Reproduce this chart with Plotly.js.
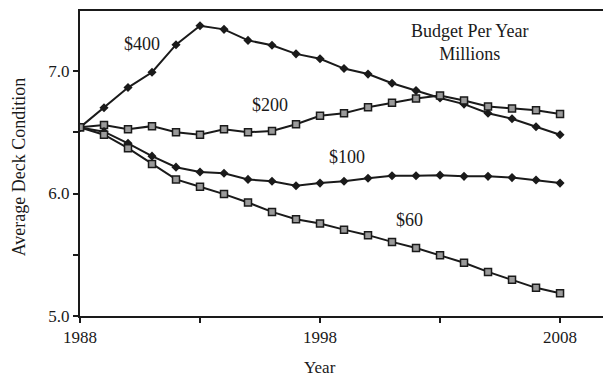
<!DOCTYPE html>
<html>
<head>
<meta charset="utf-8">
<script src="https://cdn.plot.ly/plotly-3.0.1.min.js"></script>
<style>
  html, body { margin: 0; padding: 0; background: #fff; }
  #chart { width: 603px; height: 380px; }
</style>
</head>
<body>
<div id="chart"></div>
<script>
// Average deck condition by year under four annual budget levels ($ millions)
const years = [1988, 1989, 1990, 1991, 1992, 1993, 1994, 1995, 1996, 1997, 1998,
               1999, 2000, 2001, 2002, 2003, 2004, 2005, 2006, 2007, 2008];

const budget400 = [6.54, 6.70, 6.865, 6.99, 7.215, 7.37, 7.34, 7.25, 7.21, 7.14, 7.10,
                   7.02, 6.975, 6.90, 6.84, 6.78, 6.73, 6.655, 6.61, 6.545, 6.48];
const budget200 = [6.54, 6.56, 6.525, 6.55, 6.50, 6.48, 6.525, 6.50, 6.51, 6.565, 6.635,
                   6.655, 6.705, 6.74, 6.775, 6.80, 6.76, 6.71, 6.695, 6.68, 6.65];
const budget100 = [6.54, 6.505, 6.41, 6.305, 6.215, 6.175, 6.165, 6.115, 6.10, 6.063, 6.085,
                   6.10, 6.125, 6.145, 6.145, 6.15, 6.14, 6.14, 6.13, 6.11, 6.085];
const budget60  = [6.54, 6.48, 6.37, 6.24, 6.115, 6.055, 5.995, 5.927, 5.85, 5.79, 5.755,
                   5.705, 5.66, 5.605, 5.555, 5.495, 5.435, 5.36, 5.295, 5.23, 5.185];

const yTickVals = [5.0, 5.5, 6.0, 6.5, 7.0];
const yTickText = ['5.0', '', '6.0', '', '7.0'];
const xTickVals = [1988, 1993, 1998, 2003, 2008];
const xTickText = ['1988', '', '1998', '', '2008'];

const ink = '#1a1a1a';
const serif = 'Liberation Serif, Times New Roman, serif';

function diamondTrace(y) {
  return {
    x: years, y: y, type: 'scatter', mode: 'lines+markers',
    line: { color: ink, width: 2 },
    marker: { symbol: 'diamond', size: 7, color: ink },
    hoverinfo: 'skip'
  };
}
function squareTrace(y) {
  return {
    x: years, y: y, type: 'scatter', mode: 'lines+markers',
    line: { color: ink, width: 2 },
    marker: { symbol: 'square', size: 7, color: '#9a9a9a', line: { color: ink, width: 1.5 } },
    hoverinfo: 'skip'
  };
}

const traces = [
  diamondTrace(budget400),
  squareTrace(budget200),
  diamondTrace(budget100),
  squareTrace(budget60)
];

const labelFont = { family: serif, size: 18, color: ink };

function label(x, y, text) {
  return { x: x, y: y, text: text, showarrow: false, xanchor: 'center', yanchor: 'middle', font: labelFont };
}

const layout = {
  width: 603, height: 380,
  margin: { l: 80, r: 0, t: 11, b: 64 },
  paper_bgcolor: '#fff', plot_bgcolor: '#fff',
  showlegend: false,
  font: { family: serif, size: 17, color: ink },
  xaxis: {
    range: [1988, 2009.79],
    tickvals: xTickVals, ticktext: xTickText,
    ticks: 'outside', ticklen: 5, tickwidth: 2, tickcolor: ink,
    showline: true, linewidth: 2, linecolor: ink, mirror: true,
    showgrid: false, zeroline: false,
    tickfont: { family: serif, size: 17, color: ink }
  },
  yaxis: {
    range: [5.0, 7.49],
    tickvals: yTickVals, ticktext: yTickText,
    ticks: 'outside', ticklen: 5, tickwidth: 2, tickcolor: ink,
    showline: true, linewidth: 2, linecolor: ink,
    showgrid: false, zeroline: false,
    tickfont: { family: serif, size: 17, color: ink }
  },
  annotations: [
    label(1990.58, 7.22, '$400'),
    label(1995.92, 6.72, '$200'),
    label(1999.13, 6.30, '$100'),
    label(2001.71, 5.78, '$60'),
    Object.assign(label(2004.25, 7.235, 'Budget Per Year<br>Millions'), { align: 'center' }),
    { x: 1998, xref: 'x', y: -0.17, yref: 'paper', xanchor: 'center', yanchor: 'middle',
      text: 'Year', showarrow: false, font: { family: serif, size: 17, color: ink } },
    { x: -0.117, xref: 'paper', y: 6.22, yref: 'y', xanchor: 'center', yanchor: 'middle',
      textangle: -90, text: 'Average Deck Condition', showarrow: false,
      font: { family: serif, size: 18, color: ink } }
  ]
};

Plotly.newPlot('chart', traces, layout, { staticPlot: true, displayModeBar: false });
</script>
</body>
</html>
